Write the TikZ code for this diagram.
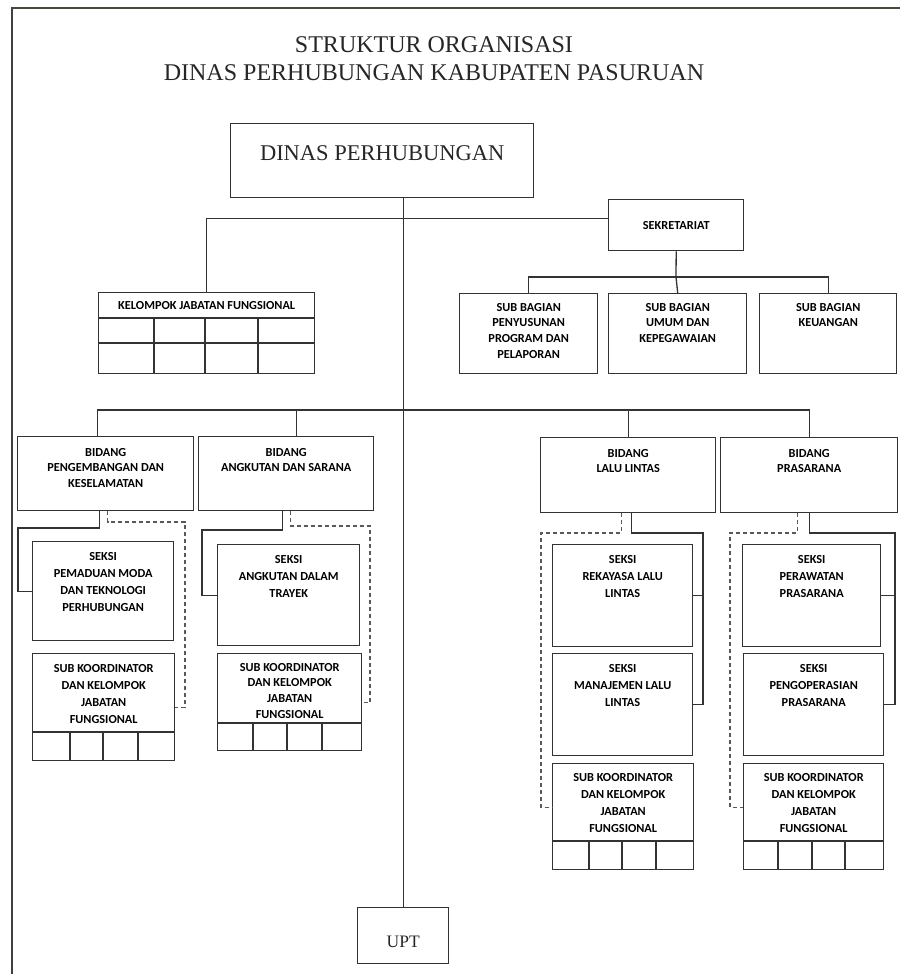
\documentclass[tikz,border=0pt]{standalone}
\usepackage{fontspec}
\setmainfont{Liberation Serif}
\newfontfamily\orgsans{Carlito}
\usetikzlibrary{positioning}
\definecolor{olivedark}{RGB}{72,74,52}

\begin{document}
\begin{tikzpicture}[x=1pt, y=-1pt,
    box/.style={draw=black!80, line width=1.4pt, anchor=north west, inner sep=0pt},
    link/.style={draw=black!80, line width=1.3pt},
    dashlink/.style={draw=black!65, line width=1.2pt, dash pattern=on 4pt off 3pt},
    txt/.style={inner sep=0pt, align=center, text=black,
                font=\orgsans\bfseries\fontsize{12.3}{17}\selectfont},
    tighttxt/.style={txt, font=\orgsans\bfseries\fontsize{12.3}{15.7}\selectfont},
    bigtxt/.style={inner sep=0pt, align=center, text=black!85,
                font=\fontsize{22.5}{28}\selectfont}]

\useasboundingbox (0,0) rectangle (900,974);
\fill[white] (0,0) rectangle (900,974);

% frame
\draw[line width=2.2pt, black!75] (12,974) -- (12,8);
\draw[line width=2.5pt, olivedark] (11,8) -- (900,8);

% title
\node[bigtxt, font=\fontsize{24}{28}\selectfont] (title) at (434,59)
    {STRUKTUR ORGANISASI\\DINAS PERHUBUNGAN KABUPATEN PASURUAN};

% kepala dinas
\node[box, minimum width=303pt, minimum height=74pt] (dp) at (230,123) {};
\node[bigtxt, below=22pt of dp.north] (dptxt) {DINAS PERHUBUNGAN};

% sekretariat
\node[box, minimum width=135pt, minimum height=51pt] (sek) at (608,199) {};
\node[txt] (sektxt) at (sek.center) {SEKRETARIAT};

\node[box, minimum width=138pt, minimum height=80pt] (sb1) at (459,293) {};
\node[box, minimum width=138pt, minimum height=80pt] (sb2) at (608,293) {};
\node[box, minimum width=137pt, minimum height=80pt] (sb3) at (759,293) {};
\node[tighttxt, below=10pt of sb1.north] (sb1txt) {SUB BAGIAN\\PENYUSUNAN\\PROGRAM DAN\\PELAPORAN};
\node[tighttxt, below=10pt of sb2.north] (sb2txt) {SUB BAGIAN\\UMUM DAN\\KEPEGAWAIAN};
\node[tighttxt, below=10pt of sb3.north] (sb3txt) {SUB BAGIAN\\KEUANGAN};

% kelompok jabatan fungsional
\node[box, minimum width=216pt, minimum height=81pt] (kjf) at (98,292) {};
\node[txt, below=9pt of kjf.north] (kjftxt) {KELOMPOK JABATAN FUNGSIONAL};
\draw[link] (98,318) -- (314,318);
\draw[link] (98,343) -- (314,343);
\foreach \cx in {154,205,258} \draw[link] (\cx,318) -- (\cx,373);

% bidang
\node[box, minimum width=176pt, minimum height=74pt] (bpk) at (17,436) {};
\node[box, minimum width=175pt, minimum height=74pt] (bas) at (198,436) {};
\node[box, minimum width=175pt, minimum height=75pt] (bll) at (540,437) {};
\node[box, minimum width=177pt, minimum height=75pt] (bpr) at (720,437) {};
\node[tighttxt, below=12pt of bpk.north] (bpktxt) {BIDANG\\PENGEMBANGAN DAN\\KESELAMATAN};
\node[tighttxt, below=12pt of bas.north] (bastxt) {BIDANG\\ANGKUTAN DAN SARANA};
\node[tighttxt, below=12pt of bll.north] (blltxt) {BIDANG\\LALU LINTAS};
\node[tighttxt, below=12pt of bpr.north] (bprtxt) {BIDANG\\PRASARANA};

% seksi
\node[box, minimum width=141pt, minimum height=99pt]  (spm) at (32,541) {};
\node[box, minimum width=142pt, minimum height=101pt] (sat) at (217,544) {};
\node[box, minimum width=140pt, minimum height=102pt] (srl) at (552,544) {};
\node[box, minimum width=140pt, minimum height=102pt] (sml) at (552,653) {};
\node[box, minimum width=138pt, minimum height=102pt] (spw) at (742,544) {};
\node[box, minimum width=140pt, minimum height=102pt] (spo) at (743,653) {};
\node[txt, below=11pt of spm.north] (spmtxt) {SEKSI\\PEMADUAN MODA\\DAN TEKNOLOGI\\PERHUBUNGAN};
\node[txt, below=11pt of sat.north] (sattxt) {SEKSI\\ANGKUTAN DALAM\\TRAYEK};
\node[txt, below=11pt of srl.north] (srltxt) {SEKSI\\REKAYASA LALU\\LINTAS};
\node[txt, below=11pt of sml.north] (smltxt) {SEKSI\\MANAJEMEN LALU\\LINTAS};
\node[txt, below=11pt of spw.north] (spwtxt) {SEKSI\\PERAWATAN\\PRASARANA};
\node[txt, below=11pt of spo.north] (spotxt) {SEKSI\\PENGOPERASIAN\\PRASARANA};

% sub koordinator
\node[box, minimum width=142pt, minimum height=107pt] (skpk) at (32,653) {};
\node[box, minimum width=144pt, minimum height=97pt]  (skas) at (217,653) {};
\node[box, minimum width=141pt, minimum height=106pt] (skll) at (552,763) {};
\node[box, minimum width=140pt, minimum height=106pt] (skpr) at (743,763) {};
\node[txt, below=11pt of skpk.north] (skpktxt) {SUB KOORDINATOR\\DAN KELOMPOK\\JABATAN\\FUNGSIONAL};
\node[tighttxt, below=10pt of skas.north] (skastxt) {SUB KOORDINATOR\\DAN KELOMPOK\\JABATAN\\FUNGSIONAL};
\node[txt, below=10pt of skll.north] (sklltxt) {SUB KOORDINATOR\\DAN KELOMPOK\\JABATAN\\FUNGSIONAL};
\node[txt, below=10pt of skpr.north] (skprtxt) {SUB KOORDINATOR\\DAN KELOMPOK\\JABATAN\\FUNGSIONAL};
\draw[link] (32,732) -- (174,732);
\foreach \cx in {70,103,138} \draw[link] (\cx,732) -- (\cx,760);
\draw[link] (217,723) -- (361,723);
\foreach \cx in {253,287,322} \draw[link] (\cx,723) -- (\cx,750);
\draw[link] (552,841) -- (693,841);
\foreach \cx in {589,622,656} \draw[link] (\cx,841) -- (\cx,869);
\draw[link] (743,841) -- (883,841);
\foreach \cx in {778,812,845} \draw[link] (\cx,841) -- (\cx,869);

% upt
\node[box, minimum width=91pt, minimum height=56pt] (upt) at (357,907) {};
\node[bigtxt, font=\fontsize{17.5}{20}\selectfont, below=29pt of upt.north] (upttxt) {UPT};

% garis komando
\coordinate (bus) at (402,410);
\coordinate (sekbus) at (676,277);
\coordinate (pkL) at (18,528);
\coordinate (pkR) at (185,522);
\coordinate (asL) at (202,530);
\coordinate (asR) at (370,526);
\coordinate (llL) at (541,533);
\coordinate (llR) at (703,533);
\coordinate (prL) at (730,533);
\coordinate (prR) at (895,533);

\draw[link] (dp.south -| upt.north) -- (upt.north);
\draw[link] ([yshift=7pt]sek.west) -| (kjf.north);
\draw[link] (sek.south) -- (sekbus);
\draw[link] (sb1.north) |- (sekbus) -| (sb3.north);
\draw[link] (sekbus) -- (sb2.north);

\draw[link] ([xshift=-8pt]bpk.north) |- (bus) -| (bpr.north);
\draw[link] ([xshift=10pt]bas.north) -- ([xshift=10pt]bas.north |- bus);
\draw[link] (bll.north) -- (bll.north |- bus);

\draw[link] ([xshift=-6pt]bpk.south) |- (pkL) |- (spm.west);
\draw[dashlink] ([xshift=2pt]bpk.south) |- (pkR) |- (skpk.east);
\draw[link] ([xshift=-4pt]bas.south) |- (asL) |- (sat.west);
\draw[dashlink] ([xshift=4pt]bas.south) |- (asR) |- (skas.east);

\draw[link] ([xshift=3pt]bll.south) |- (llR) |- (sml.east);
\draw[link] (srl.east) -- (srl.east -| llR);
\draw[dashlink] ([xshift=-7pt]bll.south) |- (llL) |- ([yshift=9pt]skll.west);
\draw[link] (bpr.south) |- (prR) |- (spo.east);
\draw[link] (spw.east) -- (spw.east -| prR);
\draw[dashlink] ([xshift=-12pt]bpr.south) |- (prL) |- ([yshift=9pt]skpr.west);
\end{tikzpicture}
\end{document}
